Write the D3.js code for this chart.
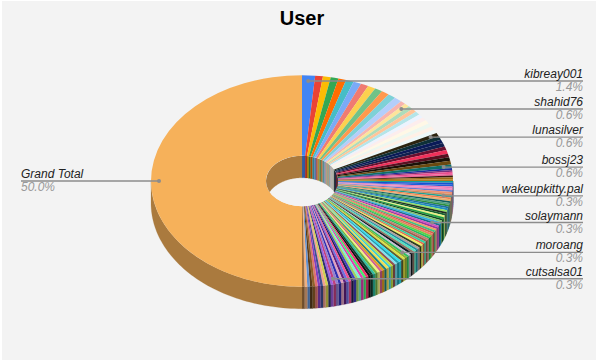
<!DOCTYPE html>
<html>
<head>
<meta charset="utf-8">
<script src="https://cdn.jsdelivr.net/npm/d3@7"></script>
<style>
html, body { margin: 0; padding: 0; background: #fff; }
svg { display: block; }
</style>
</head>
<body>
<svg id="chart" width="596" height="360"></svg>
<script>
// slice sizes, clockwise from 12 o'clock
const counts = [
    5,
    3, 3, 3, 3, 3, 3, 3, 3, 3, 3, 3, 3,
    2, 2, 2, 2, 2, 2, 2, 2, 2, 2, 2,
    2, 2, 2, 2, 2, 2, 2, 2, 2, 2,
    1, 1, 1, 1, 1, 1, 1, 1, 1, 1, 1, 1, 1, 1, 1, 1, 1, 1, 1, 1,
    1, 1, 1, 1, 1, 1, 1, 1, 1, 1, 1, 1, 1, 1, 1, 1, 1, 1, 1, 1,
    1, 1, 1, 1, 1, 1, 1, 1, 1, 1, 1, 1, 1, 1, 1, 1, 1, 1, 1, 1,
    1, 1, 1, 1, 1, 1, 1, 1, 1, 1, 1, 1, 1, 1, 1, 1, 1, 1, 1, 1,
    1, 1, 1, 1, 1, 1, 1, 1, 1, 1, 1, 1, 1, 1, 1, 1, 1,
    180
];
const sliceColors = [
    "#4285f4",
    "#ea4335", "#fbbc04", "#34a853", "#ff6d01", "#46bdc6", "#7baaf7", "#f07b72", "#fcd04f", "#71c287", "#ff994d", "#7ed1d7", "#b3cefb",
    "#f7b4ae", "#fde49b", "#aedcba", "#ffc599", "#b5e5e8", "#ecf3fe", "#fdeded", "#fff8e6", "#edf7ef", "#fff0e6", "#edf8f9",
    "#2b2410", "#0e3038", "#0a1a58", "#10204f", "#6a1030", "#f0305a", "#5a0f20", "#1a1208", "#6a4a10", "#0f6f6a",
    "#1a2f9a", "#7a2f7a", "#e84f8f", "#f0609a", "#3a1a10", "#9b6a14", "#b07c1a", "#139e9e", "#1a4fd0", "#2060d8",
    "#e57ab8", "#f08ac0", "#6a7ad0", "#f09070", "#c88a60", "#20a090", "#f08050", "#e8b070", "#106060", "#50a080",
    "#2b8f3f", "#1f6f9f", "#208fc0", "#90e060", "#203020", "#186030", "#e8f080", "#20a040", "#104a20", "#80c070",
    "#30b0e0", "#1a6a90", "#d050c0", "#a030a0", "#f0a060", "#40c080", "#d06050", "#e88060", "#60d040", "#20c060",
    "#c08070", "#a06050", "#30d0a0", "#e07050", "#f0f060", "#304020", "#b0a0a0", "#2090a0", "#50e0c0", "#907060",
    "#101820", "#c0c0d0", "#30c060", "#90b030", "#e0e040", "#606030", "#30e0f0", "#20a0b0", "#80e0f0", "#905050",
    "#c0e040", "#40d0d0", "#f0e050", "#208080", "#e0a020", "#d06090", "#f0f080", "#70b040", "#30c0a0", "#104030",
    "#101010", "#f03070", "#40f070", "#e040b0", "#80f0d0", "#a0d060", "#4040c0", "#202050", "#f05090", "#7070e0",
    "#602080", "#e0a0c0", "#3030b0", "#9080d0", "#c04080", "#a060e0", "#303070", "#d0d050", "#f0a090", "#405090",
    "#8040c0", "#e07070", "#90602a", "#5a3a18", "#6090d0", "#f0b080", "#a07040",
    "#f6b15a"
];
const labelNames = ["kibreay001", "shahid76", "lunasilver", "bossj23", "wakeupkitty.pal", "solaymann", "moroang", "cutsalsa01", "Grand Total"];
const labelSlices = [0, 14, 24, 33, 49, 65, 86, 118, 131];

const cx = 302, cy = 181, rOuter = 151, rInner = 36, tilt = 0.7, depth = 22;
const lineRight = 583, lineLeft = 21;
const rAnchor = 143;

const svg = d3.select("#chart");
const total = d3.sum(counts);

const pie = d3.pie().sort(null).value(d => d)(counts);
pie.forEach((s, i) => { s.color = sliceColors[i]; });

function ellipsePoint(r, a, dy) {
    return [cx + r * Math.sin(a), cy - r * tilt * Math.cos(a) + dy];
}

// band between the top rim and the same rim pushed down by depth
function wallPath(r, a0, a1) {
    const steps = d3.range(0, 1.0001, 1 / Math.max(2, Math.ceil((a1 - a0) * 40)));
    const top = steps.map(t => ellipsePoint(r, a0 + (a1 - a0) * t, 0));
    const bottom = steps.map(t => ellipsePoint(r, a1 - (a1 - a0) * t, depth));
    return d3.line()(top.concat(bottom)) + "Z";
}

function wallColor(c) {
    const col = d3.rgb(c);
    return d3.rgb(col.r * 0.69, col.g * 0.69, col.b * 0.69).formatHex();
}

// page background, a thin white edge is left at top and left
svg.append("rect")
    .attr("x", 2)
    .attr("y", 1)
    .attr("width", 594)
    .attr("height", 359)
    .attr("fill", "#f3f3f3");

svg.append("text")
    .attr("x", 302)
    .attr("y", 25)
    .attr("text-anchor", "middle")
    .attr("font-family", "'Liberation Sans', Arial, sans-serif")
    .attr("font-weight", "bold")
    .attr("font-size", 20)
    .attr("fill", "#000")
    .text("User");

// outer wall, only the near half shows
const outerG = svg.append("g");
pie.forEach(s => {
    const a0 = Math.max(s.startAngle, Math.PI / 2);
    const a1 = Math.min(s.endAngle, Math.PI * 1.5);
    if (a1 <= a0) return;
    outerG.append("path")
        .attr("d", wallPath(rOuter, a0, a1))
        .attr("fill", wallColor(s.color))
        .attr("stroke", wallColor(s.color))
        .attr("stroke-width", 0.2);
});

// top faces
const arc = d3.arc().innerRadius(rInner).outerRadius(rOuter);
svg.append("g")
    .attr("transform", `translate(${cx},${cy}) scale(1,${tilt})`)
    .selectAll("path")
    .data(pie)
    .join("path")
    .attr("d", arc)
    .attr("fill", d => d.color);

// hole: far side of the inner wall, cut to the hole's ellipse
svg.append("clipPath")
    .attr("id", "holeClip")
    .append("ellipse")
    .attr("cx", cx)
    .attr("cy", cy)
    .attr("rx", rInner)
    .attr("ry", rInner * tilt);

svg.append("ellipse")
    .attr("cx", cx)
    .attr("cy", cy)
    .attr("rx", rInner)
    .attr("ry", rInner * tilt)
    .attr("fill", "#f3f3f3");

const innerG = svg.append("g").attr("clip-path", "url(#holeClip)");
pie.forEach(s => {
    const ranges = [[s.startAngle, Math.min(s.endAngle, Math.PI / 2)], [Math.max(s.startAngle, Math.PI * 1.5), s.endAngle]];
    ranges.forEach(r => {
        if (r[1] <= r[0]) return;
        innerG.append("path")
            .attr("d", wallPath(rInner, r[0], r[1]))
            .attr("fill", wallColor(s.color))
            .attr("stroke", wallColor(s.color))
            .attr("stroke-width", 0.2);
    });
});

// leader lines and labels
labelNames.forEach((name, i) => {
    const s = pie[labelSlices[i]];
    const mid = (s.startAngle + s.endAngle) / 2;
    const p = ellipsePoint(rAnchor, mid, 0);
    const onRight = p[0] >= cx;
    const xEnd = onRight ? lineRight : lineLeft;
    const anchor = onRight ? "end" : "start";
    const g = svg.append("g");
    g.append("line")
        .attr("x1", p[0]).attr("y1", p[1])
        .attr("x2", xEnd).attr("y2", p[1])
        .attr("stroke", "#8c8c8c")
        .attr("stroke-width", 1.3);
    g.append("circle")
        .attr("cx", p[0]).attr("cy", p[1])
        .attr("r", 2)
        .attr("fill", "#8c8c8c");
    g.append("text")
        .attr("x", xEnd).attr("y", p[1] - 3)
        .attr("text-anchor", anchor)
        .attr("font-family", "'Liberation Sans', Arial, sans-serif")
        .attr("font-style", "italic")
        .attr("font-size", 12)
        .attr("fill", "#222")
        .text(name);
    g.append("text")
        .attr("x", xEnd).attr("y", p[1] + 10)
        .attr("text-anchor", anchor)
        .attr("font-family", "'Liberation Sans', Arial, sans-serif")
        .attr("font-style", "italic")
        .attr("font-size", 12)
        .attr("fill", "#999")
        .text((s.value / total * 100).toFixed(1) + "%");
});
</script>
</body>
</html>
